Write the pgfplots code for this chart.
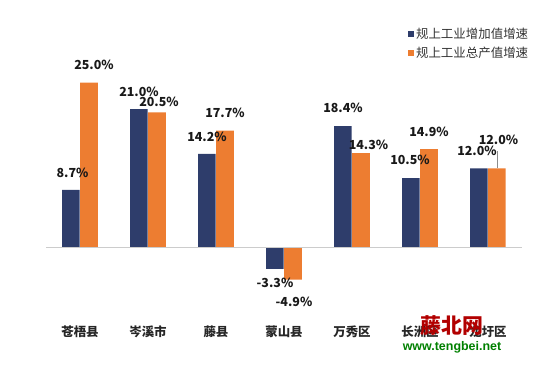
\documentclass[border=0pt]{standalone}
\usepackage{pgfplots}
\pgfplotsset{compat=1.18}
\usepackage{pgfplotstable}
\usepackage{fontspec}
\setmainfont{Noto Sans CJK SC}
\newfontfamily\urlfont{Liberation Sans}
\definecolor{cblue}{HTML}{2E3D6B}
\definecolor{corange}{HTML}{ED7D31}
\pgfplotstableread{
x y dx dy
0 8.7 1.5 17
1 21.0 0 17
2 14.2 0 17
3 -3.3 0 -14
4 18.4 0 18
5 10.5 -1 18
6 12.0 -2 17
}\blueT
\pgfplotstableread{
x y dx dy
0 25.0 5 17.7
1 20.5 2 10
2 17.7 0 18
3 -4.9 1 -22.5
4 14.3 7.5 8
5 14.9 0 17
6 12.0 1.5 28.5
}\orangeT
\begin{document}
\begin{tikzpicture}
\begin{axis}[
  scale only axis, width=476bp, height=292bp,
  xmin=-0.5, xmax=6.5, ymin=-11.35, ymax=33,
  ybar, bar width=17.5bp,
  xtick={0,...,6},
  xticklabels={苍梧县,岑溪市,藤县,蒙山县,万秀区,长洲区,龙圩区},
  xticklabel style={font=\fontsize{12.5}{14}\selectfont\bfseries, text=black!85},
  hide y axis, axis x line*=bottom, x axis line style={draw=none}, major tick length=0pt,
  /pgf/number format/assume math mode=true,
  nodes near coords={\pgfmathprintnumber[fixed,fixed zerofill,precision=1,assume math mode=true]{\pgfplotspointmeta}\%},
  visualization depends on={\thisrow{dx} \as \dx},
  visualization depends on={\thisrow{dy} \as \dy},
  every node near coord/.append style={anchor=center, xshift=\dx bp, yshift=\dy bp,
     font=\fontsize{12.5}{14}\selectfont\bfseries, text=black!90, inner sep=0pt},
  legend style={at={(axis description cs:0.754,1.02)}, anchor=north west, draw=none, fill=none,
     font=\fontsize{12.5}{14}\selectfont, text=black!80, row sep=3bp},
  legend cell align=left,
  legend image code/.code={\fill[#1] (0bp,-3bp) rectangle (6bp,3bp);},
]
\addplot[fill=cblue, draw=none, bar shift=-9bp] table[x=x,y=y] {\blueT};
\addlegendentry{规上工业增加值增速}
\addplot[fill=corange, draw=none, bar shift=9bp] table[x=x,y=y] {\orangeT};
\addlegendentry{规上工业总产值增速}
\draw[black!20, line width=0.8pt] (axis cs:-0.5,0) -- (axis cs:6.5,0);
\draw[black!45, line width=0.5pt] (axis cs:6.13,12.1) -- (axis cs:6.13,14.6);
\end{axis}
\node[text=red!70!black, font=\fontsize{21}{22}\selectfont\bfseries] at (406bp,-4bp) {藤北网};
\node[text=green!50!black, font=\urlfont\fontsize{12.5}{13}\selectfont\bfseries] at (406bp,-25bp) {www.tengbei.net};
\pgfresetboundingbox
\path[use as bounding box] (-46bp,-45bp) rectangle (495bp,322bp);
\end{tikzpicture}
\end{document}
